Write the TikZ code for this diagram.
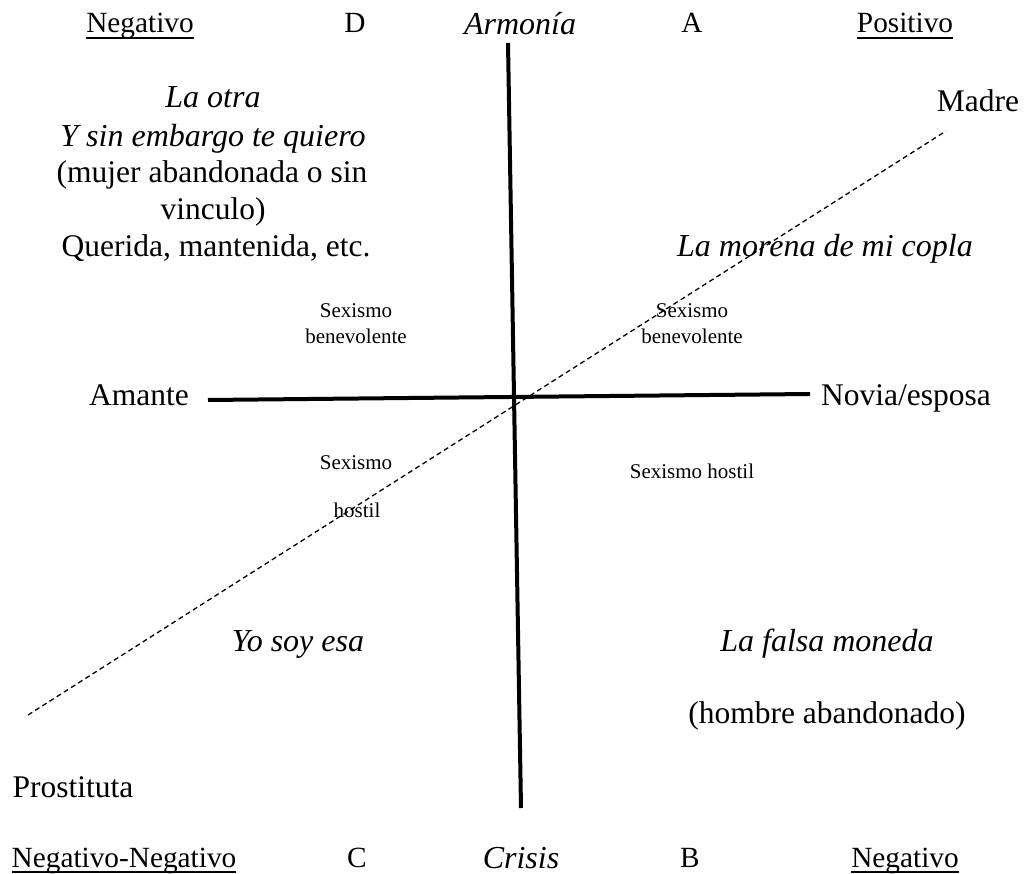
\documentclass[tikz,border=0pt]{standalone}
\usepackage{fontspec}
\setmainfont{Liberation Serif}
\begin{document}
\begin{tikzpicture}[x=1pt,y=-1pt,
  every node/.style={inner sep=0pt, outer sep=0pt, anchor=base},
  hdr/.style={font=\fontsize{29.3}{35}\selectfont},
  body/.style={font=\fontsize{31.5}{37}\selectfont},
  ital/.style={font=\fontsize{32}{37}\selectfont\itshape},
  small/.style={font=\fontsize{21}{26}\selectfont},
  axis/.style={line width=4pt},
  diag/.style={line width=1.3pt, dash pattern=on 5pt off 3.5pt},
  uline/.style={line width=1.2pt}]
\useasboundingbox (0,0) rectangle (1025,874);

% axes and diagonal
\coordinate (vtop) at (508,43);
\coordinate (vbot) at (521,808);
\coordinate (hleft) at (208,400);
\coordinate (hright) at (810,394);
\coordinate (dlow) at (28,715);
\coordinate (dhigh) at (946,131);
\draw[diag] (dlow) -- (dhigh);
\draw[axis] (vtop) -- (vbot);
\draw[axis] (hleft) -- (hright);

% top row
\node[hdr] (negTL) at (140,33) {Negativo};
\node[hdr] (qD) at (355,33) {D};
\node[ital] (armonia) at (520,35) {Armonía};
\node[hdr] (qA) at (692,33) {A};
\node[hdr] (posTR) at (905,33) {Positivo};
\draw[uline] ([yshift=-5pt]negTL.base west) -- ([yshift=-5pt]negTL.base east);
\draw[uline] ([yshift=-5pt]posTR.base west) -- ([yshift=-5pt]posTR.base east);

% upper left quadrant
\node[ital] (otra) at (213,108) {La otra};
\node[ital] (sinemb) at (213,147) {Y sin embargo te quiero};
\node[body] (mujer) at (212,183) {(mujer abandonada o sin};
\node[body] (vinculo) at (213,220) {vinculo)};
\node[body] (querida) at (216,257) {Querida, mantenida, etc.};
\node[small] (sbl1) at (356,318) {Sexismo};
\node[small] (sbl2) at (356,344) {benevolente};

% upper right quadrant
\node[body] (madre) at (978,112) {Madre};
\node[ital] (morena) at (825,257) {La morena de mi copla};
\node[small] (sbr1) at (692,318) {Sexismo};
\node[small] (sbr2) at (692,344) {benevolente};

% ends of the horizontal axis
\node[body] (amante) at (139,405) {Amante};
\node[body] (novia) at (906,405) {Novia/esposa};

% lower left quadrant
\node[small] (shl1) at (356,469) {Sexismo};
\node[small] (shl2) at (357,517) {hostil};
\node[ital] (yosoy) at (298,651) {Yo soy esa};
\node[body] (prost) at (73,797) {Prostituta};

% lower right quadrant
\node[small] (shr) at (692,478) {Sexismo hostil};
\node[ital] (falsa) at (827,651) {La falsa moneda};
\node[body] (hombre) at (827,723) {(hombre abandonado)};

% bottom row
\node[hdr] (negBL) at (124,867) {Negativo-Negativo};
\node[hdr] (qC) at (357,867) {C};
\node[ital] (crisis) at (521,868) {Crisis};
\node[hdr] (qB) at (690,867) {B};
\node[hdr] (negBR) at (905,867) {Negativo};
\draw[uline] ([yshift=-5pt]negBL.base west) -- ([yshift=-5pt]negBL.base east);
\draw[uline] ([yshift=-5pt]negBR.base west) -- ([yshift=-5pt]negBR.base east);
\end{tikzpicture}
\end{document}
